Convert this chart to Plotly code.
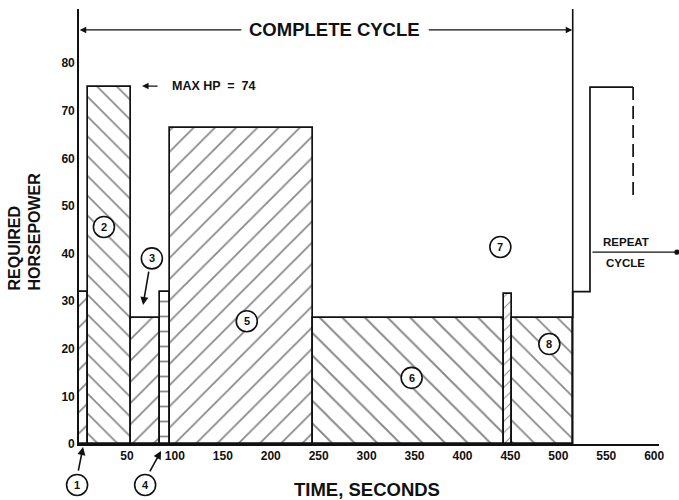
import plotly.graph_objects as go

# ---- data (time in seconds, required horsepower) ----
seg_start = [0, 9, 54, 84, 95, 244, 443, 452]
seg_end = [9, 54, 84, 95, 244, 443, 452, 515]
seg_hp = [32, 75, 26.5, 32, 66.5, 26.5, 31.5, 26.5]
seg_label = ["1", "2", "3", "4", "5", "6", "7", "8"]
seg_hatch = ["/", "\\", "/", "-", "/", "\\", "/", "\\"]
seg_hatch_size = [15, 14, 15, 15, 15, 16, 8, 15]

label_t = [-2, 26, 76, 69, 175, 347, 439.5, 490.6]
label_hp = [-8.6, 45.6, 39, -8.6, 25.8, 13.9, 41.4, 21]

repeat_t = [515, 515, 533, 533, 578]
repeat_hp = [26.5, 32, 32, 75, 75]
repeat_dash_t = [578, 578]
repeat_dash_hp = [75, 52]

cycle_end = 515
max_hp_text = "MAX HP  =  74"

x_ticks = [50, 100, 150, 200, 250, 300, 350, 400, 450, 500, 550, 600]
y_ticks = [0, 10, 20, 30, 40, 50, 60, 70, 80]

X_RANGE = [0, 605]
Y_RANGE = [0, 91.4]

FONT = "Liberation Sans, Arial, sans-serif"
BLACK = "#111111"


def to_paper(t, hp):
    return ((t - X_RANGE[0]) / (X_RANGE[1] - X_RANGE[0]),
            (hp - Y_RANGE[0]) / (Y_RANGE[1] - Y_RANGE[0]))


fig = go.Figure()

for s, e, hp, hatch, hs in zip(seg_start, seg_end, seg_hp, seg_hatch, seg_hatch_size):
    fig.add_trace(go.Bar(
        x=[(s + e) / 2], y=[hp], width=[e - s],
        marker=dict(
            color="white",
            line=dict(color=BLACK, width=1.7),
            pattern=dict(shape=hatch, size=hs, solidity=0.12,
                         fgcolor=BLACK, bgcolor="white", fillmode="overlay"),
        ),
        hoverinfo="x+y",
    ))

fig.add_trace(go.Scatter(
    x=repeat_t, y=repeat_hp, mode="lines",
    line=dict(color=BLACK, width=1.7), hoverinfo="skip",
))
fig.add_trace(go.Scatter(
    x=repeat_dash_t, y=repeat_dash_hp, mode="lines",
    line=dict(color=BLACK, width=1.7, dash="13px,6px"), hoverinfo="skip",
))

# complete-cycle marker line
fig.add_shape(type="line", xref="x", yref="paper", x0=cycle_end, x1=cycle_end,
              y0=0, y1=1, line=dict(color=BLACK, width=1.6))

ann = []
# numbered circles
for lab, t, hp in zip(seg_label, label_t, label_hp):
    px, py = to_paper(t, hp)
    fig.add_shape(type="circle", xref="paper", yref="paper",
                  xsizemode="pixel", ysizemode="pixel", xanchor=px, yanchor=py,
                  x0=-10.5, x1=10.5, y0=-10.5, y1=10.5,
                  line=dict(color=BLACK, width=1.6), fillcolor="white", layer="above")
    ann.append(dict(x=px, y=py, xref="paper", yref="paper", text=lab,
                    xanchor="center", yanchor="middle", showarrow=False,
                    font=dict(family=FONT, size=11, color=BLACK, weight="bold")))

arrow = dict(showarrow=True, arrowhead=2, arrowsize=1, arrowwidth=1.3,
             arrowcolor=BLACK, text="")
# complete cycle arrows
ann.append(dict(x=0.8, y=87, xref="x", yref="y", ax=163, ay=0, **arrow))
ann.append(dict(x=cycle_end - 0.5, y=87, xref="x", yref="y", ax=-145, ay=0, **arrow))
ann.append(dict(x=267, y=87, xref="x", yref="y", text="COMPLETE CYCLE",
                showarrow=False,
                font=dict(family=FONT, size=18.5, color=BLACK, weight="bold")))
# max hp
ann.append(dict(x=65.8, y=75.2, xref="x", yref="y", ax=17, ay=0, **arrow))
ann.append(dict(x=95, y=75.2, xref="x", yref="y", text=max_hp_text, xanchor="left",
                showarrow=False,
                font=dict(family=FONT, size=12.5, color=BLACK, weight="bold")))
# arrow for 3
ann.append(dict(x=66.8, y=29.2, xref="x", yref="y", ax=6, ay=-35,
                **{**arrow, "arrowwidth": 1.6}))
# arrow for 1
ann.append(dict(x=4.2, y=-0.007, xref="x", yref="paper", ax=-5, ay=25,
                **{**arrow, "arrowwidth": 1.6}))
# arrow for 4
ann.append(dict(x=85.6, y=-0.016, xref="x", yref="paper", ax=-12, ay=22,
                **{**arrow, "arrowwidth": 1.6}))
# repeat cycle
ann.append(dict(x=1.031, y=40.3, xref="paper", yref="y", ax=-86, ay=0,
                **{**arrow, "arrowhead": 6}))
ann.append(dict(x=571, y=42.4, xref="x", yref="y", text="REPEAT", showarrow=False,
                font=dict(family=FONT, size=11.5, color=BLACK, weight="bold")))
ann.append(dict(x=570, y=38.0, xref="x", yref="y", text="CYCLE", showarrow=False,
                font=dict(family=FONT, size=11.5, color=BLACK, weight="bold")))
# axis titles
ann.append(dict(x=-0.0948, y=0.4885, xref="paper", yref="paper",
                xanchor="center", yanchor="middle",
                text="REQUIRED<br>HORSEPOWER", textangle=-90, align="left",
                showarrow=False,
                font=dict(family=FONT, size=16, color=BLACK, weight="bold")))
ann.append(dict(x=300, y=-0.1057, xref="x", yref="paper", text="TIME, SECONDS",
                xanchor="center", yanchor="middle", showarrow=False,
                font=dict(family=FONT, size=18.5, color=BLACK, weight="bold")))

fig.update_layout(
    width=679, height=500,
    margin=dict(l=79, r=20, t=9, b=56),
    paper_bgcolor="white", plot_bgcolor="white",
    showlegend=False, bargap=0, barmode="overlay",
    annotations=ann,
    font=dict(family=FONT, color=BLACK),
)
fig.update_xaxes(range=X_RANGE, tickvals=x_ticks, showgrid=False, zeroline=False,
                 showline=True, linecolor=BLACK, linewidth=1.7, ticks="",
                 tickfont=dict(family=FONT, size=12, color=BLACK, weight="bold"))
fig.update_yaxes(range=Y_RANGE, tickvals=y_ticks, showgrid=False, zeroline=False,
                 showline=True, linecolor=BLACK, linewidth=1.7, ticks="",
                 tickfont=dict(family=FONT, size=12, color=BLACK, weight="bold"))

fig.write_html("out.html", config={"displayModeBar": False},
               post_script="document.body.style.margin='0px';")
